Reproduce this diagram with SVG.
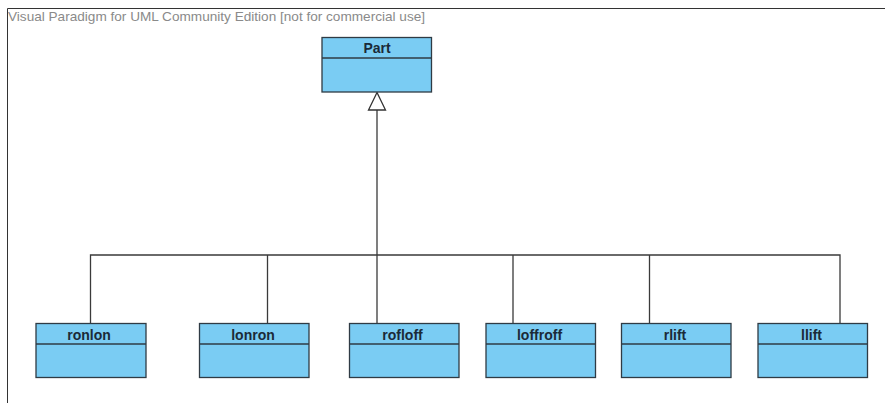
<svg xmlns="http://www.w3.org/2000/svg" width="885" height="403" viewBox="0 0 885 403">
  <style>
    .cls rect { fill: #7accf3; stroke: #2f3b44; stroke-width: 1.3; }
    .cls line { stroke: #2f3b44; stroke-width: 1.3; }
    .cls text { font-family: "Liberation Sans", Arial, sans-serif; font-size: 14px; font-weight: bold; fill: #1b2a38; text-anchor: middle; }
    .conn { stroke: #3a3a3a; stroke-width: 1.3; fill: none; }
    .frame { stroke: #333; stroke-width: 1; fill: none; }
    .title { font-family: "Liberation Sans", Arial, sans-serif; font-size: 13.6px; fill: #8a8a8a; }
  </style>

  <rect width="885" height="403" fill="#ffffff"/>

  <!-- diagram frame -->
  <path class="frame" d="M7.5,403 V8.5 H885"/>
  <text class="title" x="8" y="21">Visual Paradigm for UML Community Edition [not for commercial use]</text>

  <!-- generalization connectors -->
  <g id="connectors">
    <path class="conn" d="M377,110 V323"/>
    <path class="conn" d="M90.5,323 V255 H840 V323"/>
    <path class="conn" d="M267.5,255 V323 M513,255 V323 M649.5,255 V323"/>
    <polygon points="377,92.5 368.5,110 385.5,110" fill="#ffffff" stroke="#333" stroke-width="1.3"/>
  </g>

  <g id="Part" class="cls">
    <rect x="322" y="37.5" width="109.5" height="54.5"/>
    <line x1="322" y1="58" x2="431.5" y2="58"/>
    <text x="377" y="52.5">Part</text>
  </g>

  <g id="ronlon" class="cls">
    <rect x="36" y="323.5" width="110" height="54"/>
    <line x1="36" y1="344" x2="146" y2="344"/>
    <text x="89" y="339.5">ronlon</text>
  </g>

  <g id="lonron" class="cls">
    <rect x="199.5" y="323.5" width="109.5" height="54"/>
    <line x1="199.5" y1="344" x2="309" y2="344"/>
    <text x="253" y="339.5">lonron</text>
  </g>

  <g id="rofloff" class="cls">
    <rect x="349.5" y="323.5" width="109.5" height="54"/>
    <line x1="349.5" y1="344" x2="459" y2="344"/>
    <text x="402.5" y="339.5">rofloff</text>
  </g>

  <g id="loffroff" class="cls">
    <rect x="486" y="323.5" width="109.5" height="54"/>
    <line x1="486" y1="344" x2="595.5" y2="344"/>
    <text x="539.5" y="339.5">loffroff</text>
  </g>

  <g id="rlift" class="cls">
    <rect x="621.5" y="323.5" width="109.5" height="54"/>
    <line x1="621.5" y1="344" x2="731" y2="344"/>
    <text x="675" y="339.5">rlift</text>
  </g>

  <g id="llift" class="cls">
    <rect x="758" y="323.5" width="109.5" height="54"/>
    <line x1="758" y1="344" x2="867.5" y2="344"/>
    <text x="811.5" y="339.5">llift</text>
  </g>
</svg>
